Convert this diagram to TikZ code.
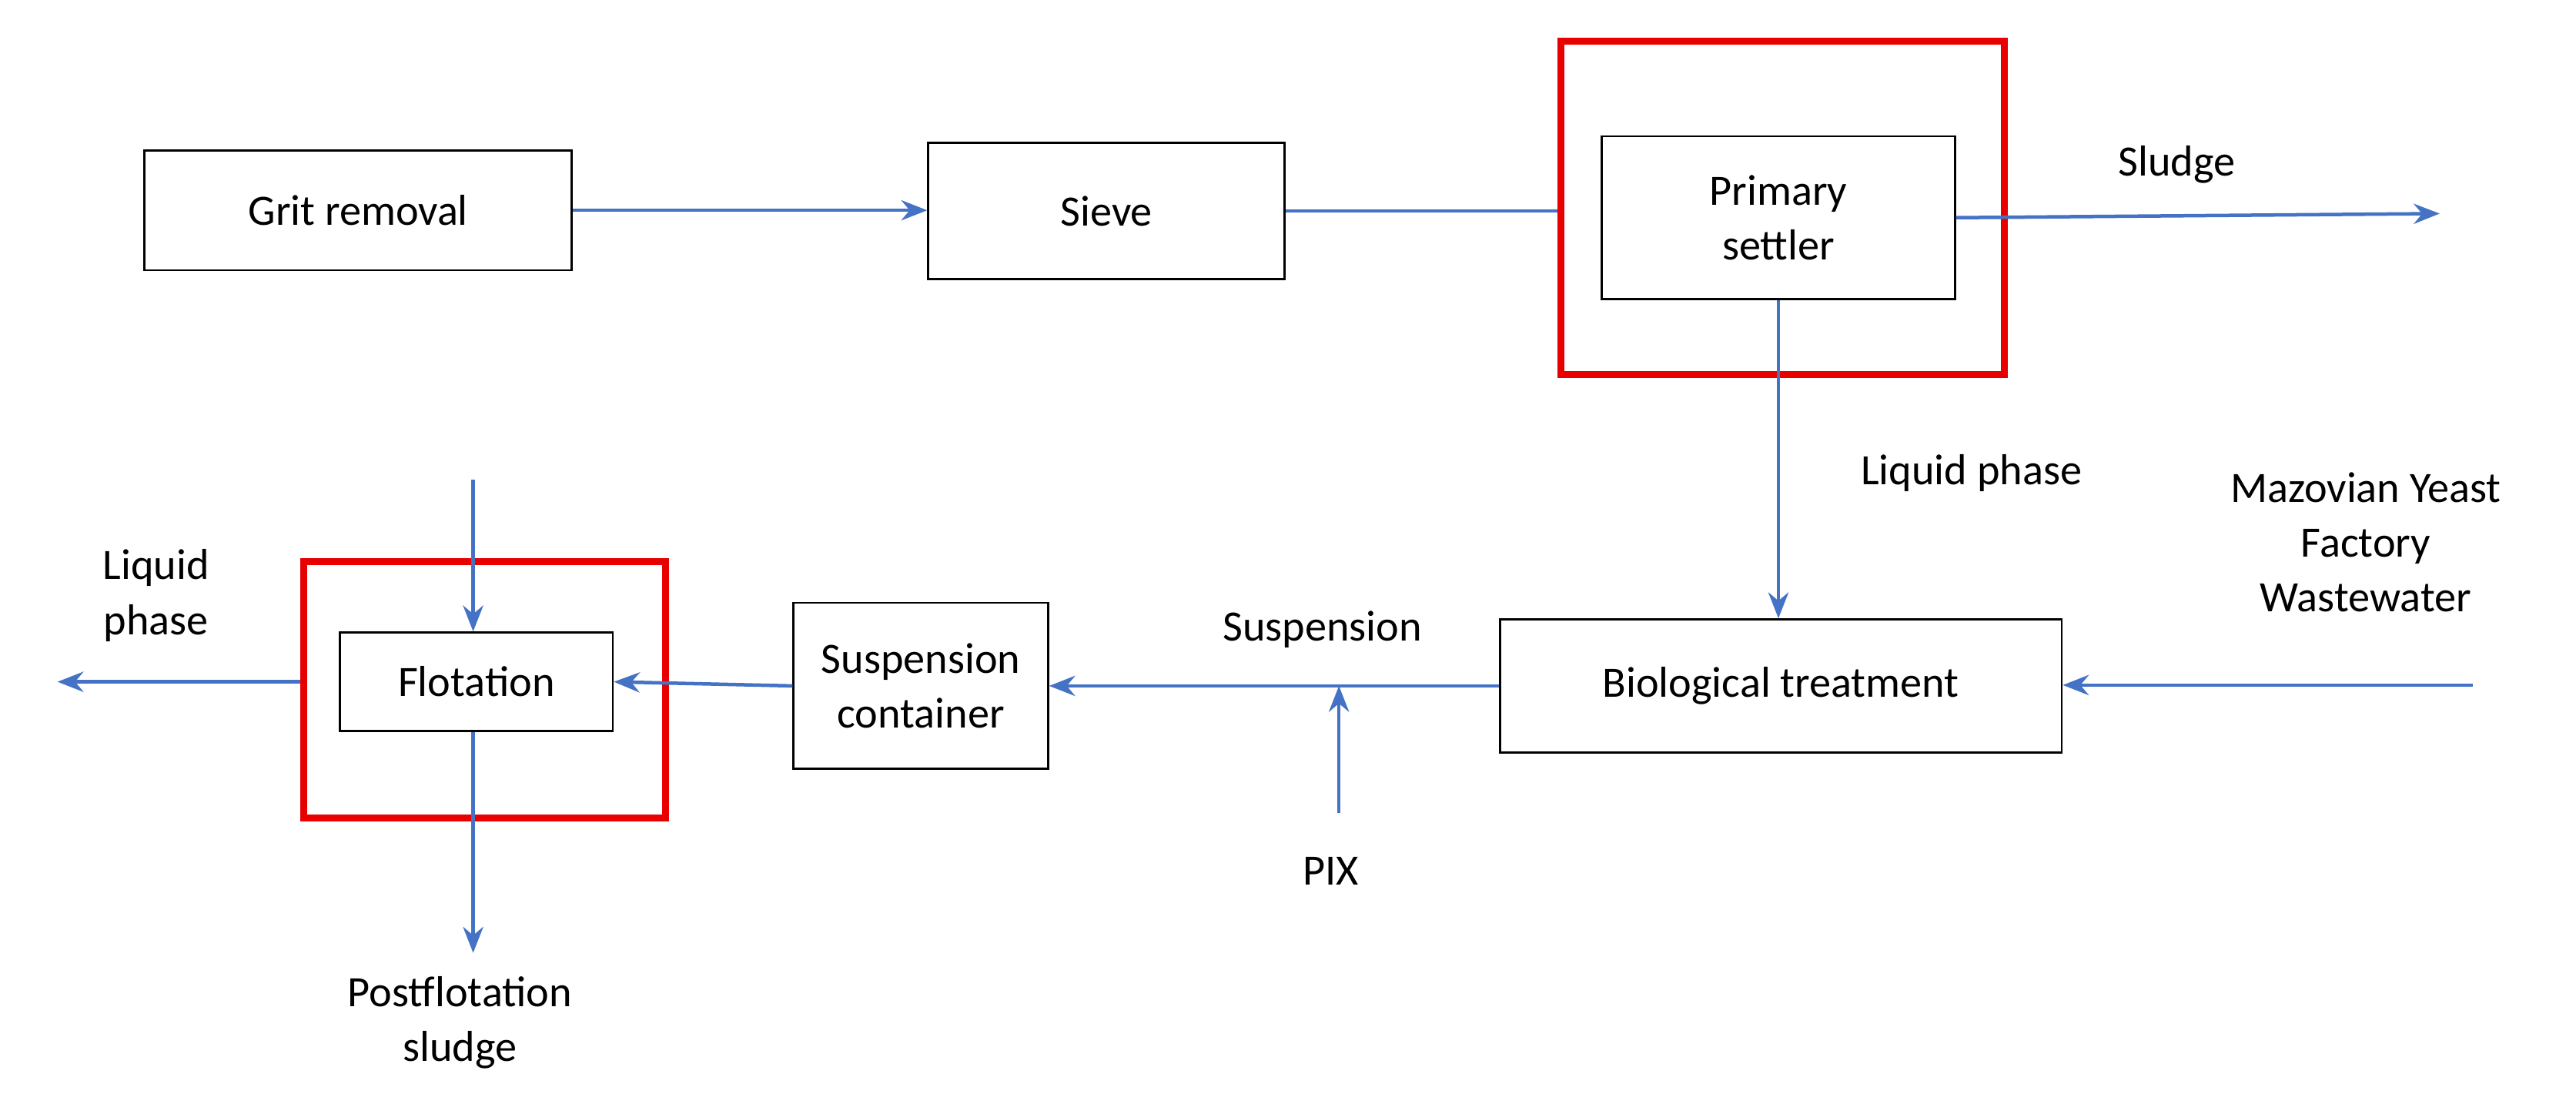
\documentclass[tikz,border=0pt]{standalone}
\usepackage{fontspec}
\setmainfont{Carlito}
\usetikzlibrary{arrows.meta}
\definecolor{flowblue}{RGB}{68,114,196}
\definecolor{framered}{RGB}{232,0,0}
\begin{document}
\begin{tikzpicture}[
	font=\fontsize{15}{19}\selectfont,
	box/.style={draw=black, line width=0.7pt, align=center, inner sep=0pt},
	frame/.style={draw=framered, line width=2.4pt, inner sep=0pt},
	flow/.style={draw=flowblue, line width=1.2pt, -{Stealth[length=9pt,width=7pt]}},
	lbl/.style={align=center}]
	\useasboundingbox (0,0) rectangle (31.36,-13.56);

	% top row
	\node[box, minimum width=5.2cm, minimum height=1.46cm] (grit) at (4.36,-2.56) {Grit removal};
	\node[box, minimum width=4.34cm, minimum height=1.66cm] (sieve) at (13.47,-2.57) {Sieve};
	\node[frame, minimum width=5.4cm, minimum height=4.06cm] (pred) at (21.7,-2.53) {};
	\node[box, minimum width=4.3cm, minimum height=1.98cm] (prim) at (21.65,-2.65) {Primary\\settler};

	% bottom row
	\node[box, minimum width=6.84cm, minimum height=1.62cm] (bio) at (21.68,-8.35) {Biological treatment};
	\node[box, minimum width=3.1cm, minimum height=2.02cm] (susp) at (11.21,-8.35) {Suspension\\container};
	\node[frame, minimum width=4.4cm, minimum height=3.12cm] (fred) at (5.9,-8.4) {};
	\node[box, minimum width=3.32cm, minimum height=1.2cm] (flot) at (5.8,-8.3) {Flotation};

	% free ends
	\coordinate (sludge) at (29.7,-2.6);
	\coordinate (myw) at (30.1,-8.34);
	\coordinate (pix) at (16.3,-9.9);
	\coordinate (ftop) at (5.76,-5.84);
	\coordinate (fbot) at (5.76,-11.6);
	\coordinate (liq) at (0.7,-8.3);

	% connectors
	\draw[flow] (grit.east) -- (sieve.west |- grit.east);
	\draw[flowblue, line width=1.2pt] (sieve.east) -- (sieve.east -| pred.west);
	\draw[flow] (prim.east) -- (sludge);
	\draw[flow] (prim.south) -- (prim.south |- bio.north);
	\draw[flow] (myw) -- (bio.east |- myw);
	\draw[flow] (bio.west |- susp.east) -- (susp.east);
	\draw[flow] (pix) -- (pix |- susp.east);
	\draw[flow] (susp.west) -- (flot.east);
	\draw[flow] (ftop) -- (ftop |- flot.north);
	\draw[flow] (ftop |- flot.south) -- (fbot);
	\draw[flow] (fred.west |- flot.west) -- (liq);

	% labels
	\node[lbl] (lsludge) at (26.5,-2.0) {Sludge};
	\node[lbl] (lliq) at (24.0,-5.76) {Liquid phase};
	\node[lbl] (lmyw) at (28.8,-6.6) {Mazovian Yeast\\Factory\\Wastewater};
	\node[lbl] (lsusp) at (16.1,-7.66) {Suspension};
	\node[lbl] (lpix) at (16.2,-10.6) {PIX};
	\node[lbl] (lpost) at (5.6,-12.45) {Postflotation\\sludge};
	\node[lbl] (lliq2) at (1.9,-7.25) {Liquid\\phase};
\end{tikzpicture}
\end{document}
